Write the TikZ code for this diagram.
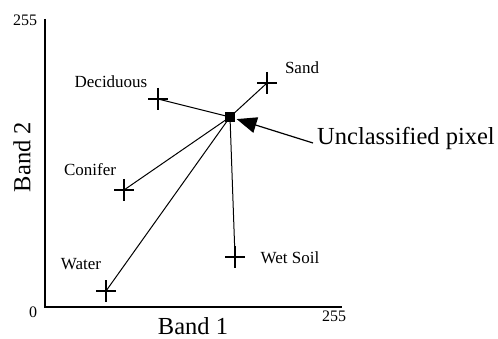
\documentclass[tikz,border=0pt]{standalone}
\usepackage{fontspec}
\setmainfont{Liberation Serif}
\usetikzlibrary{arrows.meta}
\tikzset{
  x=1pt, y=-1pt,
  axisline/.style={line width=2pt},
  conn/.style={line width=1pt},
  crossline/.style={line width=1.4pt},
  numlbl/.style={font=\fontsize{16}{18}\selectfont, inner sep=0pt},
  lbl/.style={font=\fontsize{17}{19}\selectfont, inner sep=0pt},
  biglbl/.style={font=\fontsize{24.5}{28}\selectfont, inner sep=0pt},
  pixbox/.style={fill=black, minimum size=10pt, inner sep=0pt},
  plusmark/.pic={\draw[crossline] (-10,0) -- (10,0); \draw[crossline] (0,-11) -- (0,11);}
}
\begin{document}
\begin{tikzpicture}
\useasboundingbox (0,0) rectangle (498,339);
% axes
\coordinate (ytop) at (45,19);
\coordinate (orig) at (45,307);
\coordinate (xend) at (342,307);
\draw[axisline] (ytop) -- (orig) -- (xend);
\node[numlbl] (y255) at (25,20) {255};
\node[numlbl] (zero) at (33,312) {0};
\node[numlbl] (x255) at (334,316) {255};
\node[biglbl] (band1) at (193,326) {Band 1};
\node[biglbl, rotate=90] (band2) at (22,157) {Band 2};
% class centres
\coordinate (dec) at (158,99);
\coordinate (sand) at (267,83);
\coordinate (con) at (124,190);
\coordinate (wet) at (235,257);
\coordinate (wat) at (106,291);
\pic at (dec) {plusmark};
\pic at (sand) {plusmark};
\pic at (con) {plusmark};
\pic at (wet) {plusmark};
\pic at (wat) {plusmark};
% unclassified pixel
\node[pixbox] (px) at (230,117) {};
\draw[conn] (px.center) -- (dec);
\draw[conn] (px.center) -- (sand);
\draw[conn] (px.center) -- (con);
\draw[conn] (px.center) -- (wet);
\draw[conn] (px.center) -- (wat);
% labels
\node[lbl] (ldec) at (111,82) {Deciduous};
\node[lbl] (lsand) at (302,68) {Sand};
\node[lbl] (lcon) at (90,170) {Conifer};
\node[lbl] (lwat) at (81,264) {Water};
\node[lbl] (lwet) at (290,258) {Wet Soil};
\node[biglbl, anchor=west] (lunc) at (317,138) {Unclassified pixel};
\coordinate (arrtail) at (313,143);
\draw[line width=1.2pt, -{Triangle[length=20pt,width=16pt]}, shorten >=7pt] (arrtail) -- (px.center);
\end{tikzpicture}
\end{document}
